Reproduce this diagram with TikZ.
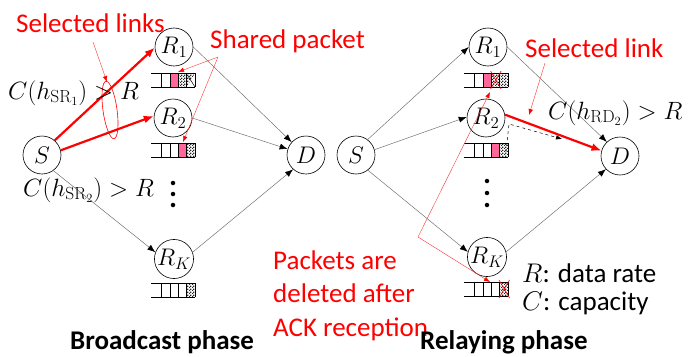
\RequirePackage{fix-cm}
\documentclass[tikz,border=0pt]{standalone}
\usepackage[no-math]{fontspec}
\setmainfont{Carlito}
\usetikzlibrary{arrows.meta,patterns}
\definecolor{pinkq}{RGB}{255,102,153}
\pgfdeclarepatternformonly{finecheck}{\pgfpointorigin}{\pgfqpoint{3pt}{3pt}}{\pgfqpoint{3pt}{3pt}}{%
  \pgfpathrectangle{\pgfpointorigin}{\pgfqpoint{1.5pt}{1.5pt}}%
  \pgfpathrectangle{\pgfqpoint{1.5pt}{1.5pt}}{\pgfqpoint{1.5pt}{1.5pt}}%
  \pgfusepath{fill}}
\newcommand\qlines[2]{%
  \draw[line width=0.5pt] (#1-2,#2) -- (#1+42,#2) (#1-2,#2+14) -- (#1+42,#2+14);
  \foreach \k in {1,...,5} \draw[line width=0.5pt] (#1+8.4*\k,#2) -- (#1+8.4*\k,#2+14);
}
\newcommand\qpink[3]{\filldraw[fill=pinkq,draw=red,line width=0.6pt] (#1+8.4*#3-8.4,#2) rectangle (#1+8.4*#3,#2+14);}
\newcommand\qcheck[3]{\fill[pattern=finecheck,pattern color=black!85] (#1+8.4*#3-8.4,#2) rectangle (#1+8.4*#3,#2+14);}
\newcommand\qcross[3]{\draw[red,line width=0.6pt] (#1+8.4*#3-9,#2-2) -- (#1+8.4*#3+1.5,#2+16) (#1+8.4*#3+1.5,#2-2) -- (#1+8.4*#3-9,#2+16);}
\tikzset{
  nd/.style={circle,draw,line width=0.6pt,minimum size=38pt,inner sep=0pt,font=\fontsize{24}{28}\selectfont},
  thinarr/.style={draw=black!55,line width=0.5pt,-{Latex[length=8pt,width=6pt,color=black]}},
  thickred/.style={draw=red,line width=2.2pt,-{Latex[length=10pt,width=8pt]}},
  callout/.style={draw=red!80,line width=0.4pt,-{Latex[length=6pt,width=4.5pt,color=red]}},
  redtxt/.style={text=red,font=\fontsize{27}{32}\selectfont,anchor=base west,inner sep=0pt},
  blktxt/.style={font=\fontsize{27}{32}\selectfont,anchor=base west,inner sep=0pt},
  mathlbl/.style={font=\fontsize{25}{30}\selectfont,anchor=base west,inner sep=0pt},
  vdot/.style={circle,fill=black,inner sep=0pt,minimum size=4.5pt},
}
\begin{document}
\begin{tikzpicture}[x=1pt,y=-1pt]
\useasboundingbox (0,0) rectangle (698,356);
% ---------- left: broadcast phase ----------
\node[nd] (S) at (42,155) {$S$};
\node[nd] (R1) at (174,47) {$R_1$};
\node[nd] (R2) at (173,118) {$R_2$};
\node[nd] (RK) at (174,259) {$R_K$};
\node[nd] (D) at (306,155) {$D$};
\node[vdot] (ld1) at (173,183) {};
\node[vdot] (ld2) at (173,194) {};
\node[vdot] (ld3) at (173,205) {};
\draw[thinarr] (S.306) -- (RK.160);
\draw[thinarr] (R1.east) -- (D.138);
\draw[thinarr] (R2.east) -- (D.162);
\draw[thinarr] (RK.20) -- (D.228);
\draw[thickred] (S.49) -- (R1.182);
\draw[thickred] (S.14) -- (R2.174);
% queues left
\qpink{153}{73}{3}\qcheck{153}{73}{4}
\fill[pattern=finecheck,pattern color=black!85] (186.6,73) -- (195,73) -- (186.6,87) -- cycle;
\draw[line width=0.5pt] (188,76) -- (195,87);
\qlines{153}{73}
\qpink{153}{143}{4}\qcheck{153}{143}{5}\qlines{153}{143}
\qcheck{153}{283}{5}\qlines{153}{283}
% ellipse and labels
\draw[red,line width=0.6pt,rotate around={8:(110,110)}] (110,110) ellipse [x radius=7, y radius=29];
\node[redtxt] (sl) at (16,32) {Selected links};
\coordinate (slA) at (93,42);
\coordinate (slB) at (107,82);
\draw[callout] (slA) -- (slB);
\node[redtxt] (sp) at (210,48) {Shared packet};
\coordinate (spA) at (218,57);
\coordinate (spB) at (178,72);
\coordinate (spC) at (183,142);
\draw[callout] (spA) -- (spB);
\draw[callout] (spA) -- (spC);
\node[mathlbl] (c1) at (8,99) {$C\Bigl(h_{\mathrm{SR}_1}\Bigr) > R$};
\node[mathlbl] (c2) at (23,196) {$C\Bigl(h_{\mathrm{SR}_2}\Bigr) > R$};
\node[blktxt,font=\fontsize{27}{32}\selectfont\bfseries] (bp) at (70,349) {Broadcast phase};
% ---------- right: relaying phase ----------
\node[nd] (S2) at (356,155) {$S$};
\node[nd] (Q1) at (488,47) {$R_1$};
\node[nd] (Q2) at (486,118) {$R_2$};
\node[nd] (QK) at (487,257) {$R_K$};
\node[nd] (D2) at (620,156) {$D$};
\node[vdot] (rd1) at (487,181) {};
\node[vdot] (rd2) at (487,193) {};
\node[vdot] (rd3) at (487,205) {};
\draw[thinarr] (S2.53) -- (Q1.west);
\draw[thinarr] (S2.16) -- (Q2.177);
\draw[thinarr] (S2.308) -- (QK.165);
\draw[thinarr] (Q1.east) -- (D2.133);
\draw[thinarr] (QK.15) -- (D2.223);
\draw[thickred] (Q2.10) -- (D2.164);
\coordinate (dA) at (506,152);
\coordinate (dB) at (509,124);
\coordinate (dC) at (562,139);
\draw[dashed,line width=0.5pt,-{Latex[length=6pt,width=4.5pt]}] (dA) -- (dB) -- (dC);
% queues right
\qpink{466}{73}{3}\qcheck{466}{73}{4}\qcheck{466}{73}{5}\qlines{466}{73}\qcross{466}{73}{4}
\qpink{466}{143}{4}\qcheck{466}{143}{5}\qlines{466}{143}
\qcheck{466}{282}{5}\qlines{466}{282}\qcross{466}{282}{5}
\node[redtxt] (slk) at (525,57) {Selected link};
\coordinate (lkA) at (545,63);
\coordinate (lkB) at (529,115);
\draw[callout] (lkA) -- (lkB);
\node[mathlbl] (c3) at (548,119) {$C\Bigl(h_{\mathrm{RD}_2}\Bigr) > R$};
\node[redtxt] (pk1) at (273,269) {Packets are};
\node[redtxt] (pk2) at (273,302) {deleted after};
\node[redtxt] (pk3) at (273,336) {ACK reception};
\coordinate (pkA) at (418,237);
\coordinate (pkB) at (490,92);
\coordinate (pkC) at (490,282);
\draw[callout] (pkA) -- (pkB);
\draw[callout] (pkA) -- (pkC);
\node[blktxt,font=\fontsize{27}{32}\selectfont] (lg1) at (522,282) {$R$: data rate};
\node[blktxt,font=\fontsize{27}{32}\selectfont] (lg2) at (522,310) {$C$: capacity};
\node[blktxt,font=\fontsize{27}{32}\selectfont\bfseries] (rp) at (420,349) {Relaying phase};
\end{tikzpicture}
\end{document}
